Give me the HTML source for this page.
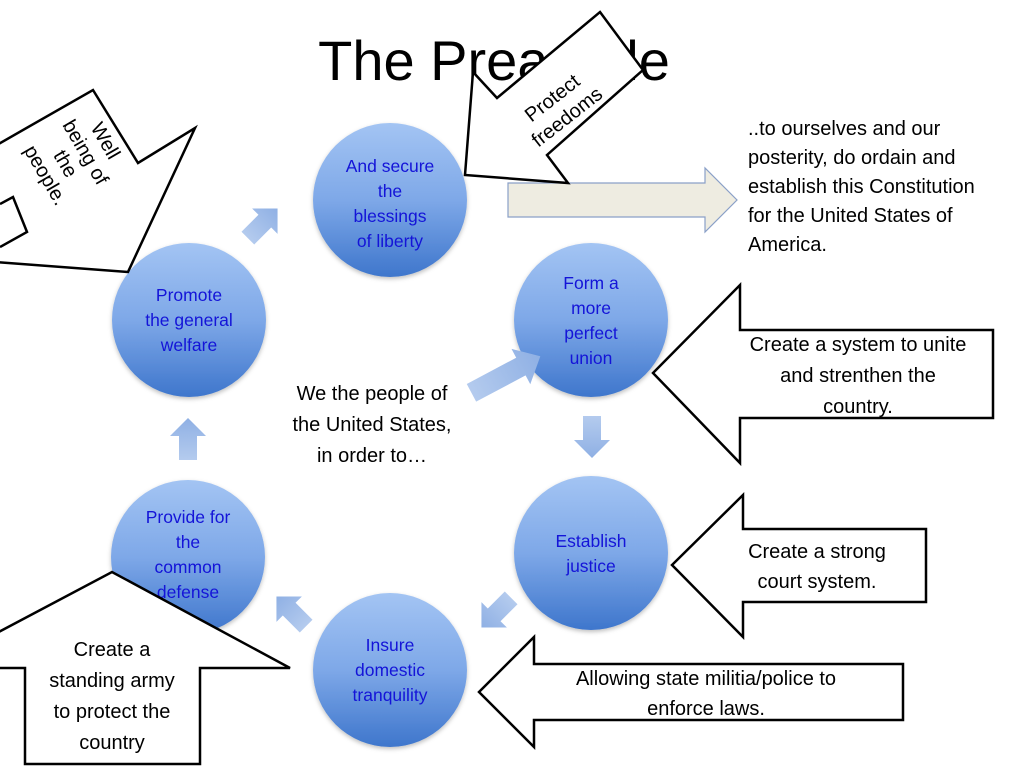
<!DOCTYPE html>
<html><head><meta charset="utf-8"><style>
html,body{margin:0;padding:0;background:#fff;}
svg{display:block;}
text{font-family:"Liberation Sans",sans-serif;}
.c{fill:url(#g);filter:url(#sh);}
.ct{fill:#1414d8;font-size:17.5px;text-anchor:middle;}
.sa{fill:url(#ga);}
.co{fill:#fff;stroke:#000;stroke-width:2.5;}
.bt{fill:#000;font-size:20px;text-anchor:middle;}
</style></head><body>
<svg width="1024" height="768" viewBox="0 0 1024 768" xmlns="http://www.w3.org/2000/svg">
<defs>
<linearGradient id="g" x1="0" y1="0" x2="0" y2="1">
<stop offset="0" stop-color="#a3c4f3"/><stop offset="0.5" stop-color="#7ea8e8"/><stop offset="1" stop-color="#3e76cc"/>
</linearGradient>
<linearGradient id="ga" x1="0" y1="0" x2="1" y2="0">
<stop offset="0" stop-color="#b4cbee"/><stop offset="1" stop-color="#8fb0e4"/>
</linearGradient>
<filter id="sh" x="-20%" y="-20%" width="140%" height="140%"><feDropShadow dx="0" dy="2" stdDeviation="2" flood-color="#000" flood-opacity="0.25"/></filter>
<path id="ar" d="M-20,-9 L4,-9 L4,-18 L22,0 L4,18 L4,9 L-20,9 Z"/>
</defs>

<text x="494" y="80" font-size="56" text-anchor="middle" fill="#000">The Preamble</text>

<!-- circles -->
<circle class="c" cx="390" cy="200" r="77"/>
<circle class="c" cx="189" cy="320" r="77"/>
<circle class="c" cx="591" cy="320" r="77"/>
<circle class="c" cx="591" cy="553" r="77"/>
<circle class="c" cx="390" cy="670" r="77"/>
<circle class="c" cx="188" cy="557" r="77"/>

<!-- small arrows -->
<use href="#ar" class="sa" transform="translate(262,224) rotate(-45)"/>
<use href="#ar" class="sa" transform="translate(188,440) rotate(-90)"/>
<use href="#ar" class="sa" transform="translate(592,436) rotate(90)"/>
<use href="#ar" class="sa" transform="translate(497,612) rotate(135)"/>
<use href="#ar" class="sa" transform="translate(292,612) rotate(-135)"/>
<path class="sa" transform="translate(505,375) rotate(-28)" d="M-38,-10 L18,-10 L18,-20 L40,0 L18,20 L18,10 L-38,10 Z"/>

<!-- circle text -->
<text class="ct"><tspan x="390" y="172">And secure</tspan><tspan x="390" y="197">the</tspan><tspan x="390" y="222">blessings</tspan><tspan x="390" y="247">of liberty</tspan></text>
<text class="ct"><tspan x="189" y="301">Promote</tspan><tspan x="189" y="326">the general</tspan><tspan x="189" y="351">welfare</tspan></text>
<text class="ct"><tspan x="591" y="289">Form a</tspan><tspan x="591" y="314">more</tspan><tspan x="591" y="339">perfect</tspan><tspan x="591" y="364">union</tspan></text>
<text class="ct"><tspan x="591" y="547">Establish</tspan><tspan x="591" y="572">justice</tspan></text>
<text class="ct"><tspan x="390" y="651">Insure</tspan><tspan x="390" y="676">domestic</tspan><tspan x="390" y="701">tranquility</tspan></text>
<text class="ct"><tspan x="188" y="523">Provide for</tspan><tspan x="188" y="548">the</tspan><tspan x="188" y="573">common</tspan><tspan x="188" y="598">defense</tspan></text>

<!-- center text -->
<text class="bt"><tspan x="372" y="400">We the people of</tspan><tspan x="372" y="431">the United States,</tspan><tspan x="372" y="462">in order to…</tspan></text>

<!-- beige arrow -->
<path d="M508,183 L705,183 L705,168 L737,200 L705,232 L705,217 L508,217 Z" fill="#eeece1" stroke="#8aa0c8" stroke-width="1.2"/>

<!-- right text -->
<text fill="#000" font-size="20"><tspan x="748" y="135">..to ourselves and our</tspan><tspan x="748" y="164">posterity, do ordain and</tspan><tspan x="748" y="193">establish this Constitution</tspan><tspan x="748" y="222">for the United States of</tspan><tspan x="748" y="251">America.</tspan></text>

<!-- protect freedoms -->
<path class="co" d="M600,12 L643,70 L547,155 L568,183 L465,175 L473,72 L497,98 Z"/>
<text class="bt" font-size="19" transform="translate(560,108) rotate(-38)"><tspan x="0" y="-6">Protect</tspan><tspan x="0" y="18">freedoms</tspan></text>

<!-- well being -->
<path class="co" d="M-5,146 L93,90 L138,163 L195,128 L128,272 L-5,262"/>
<polyline points="0,204 13,197 27,232 0,247" fill="none" stroke="#000" stroke-width="2.5"/>
<text class="bt" font-size="19" transform="translate(72,160) rotate(60)"><tspan x="0" y="-32">Well</tspan><tspan x="0" y="-9">being of</tspan><tspan x="0" y="14">the</tspan><tspan x="0" y="37">people.</tspan></text>

<!-- right callouts -->
<path class="co" d="M653,373 L740,285 L740,330 L993,330 L993,418 L740,418 L740,463 Z"/>
<text class="bt"><tspan x="858" y="351">Create a system to unite</tspan><tspan x="858" y="382">and strenthen the</tspan><tspan x="858" y="413">country.</tspan></text>
<path class="co" d="M672,565 L743,495 L743,529 L926,529 L926,602 L743,602 L743,637 Z"/>
<text class="bt"><tspan x="817" y="558">Create a strong</tspan><tspan x="817" y="588">court system.</tspan></text>
<path class="co" d="M479,692 L534,637 L534,664 L903,664 L903,720 L534,720 L534,747 Z"/>
<text class="bt"><tspan x="706" y="685">Allowing state militia/police to</tspan><tspan x="706" y="715">enforce laws.</tspan></text>

<!-- bottom-left callout -->
<path class="co" d="M-5,634 L112,572 L290,668 L200,668 L200,764 L25,764 L25,668 L-5,668"/>
<text class="bt"><tspan x="112" y="656">Create a</tspan><tspan x="112" y="687">standing army</tspan><tspan x="112" y="718">to protect the</tspan><tspan x="112" y="749">country</tspan></text>
</svg>
</body></html>
